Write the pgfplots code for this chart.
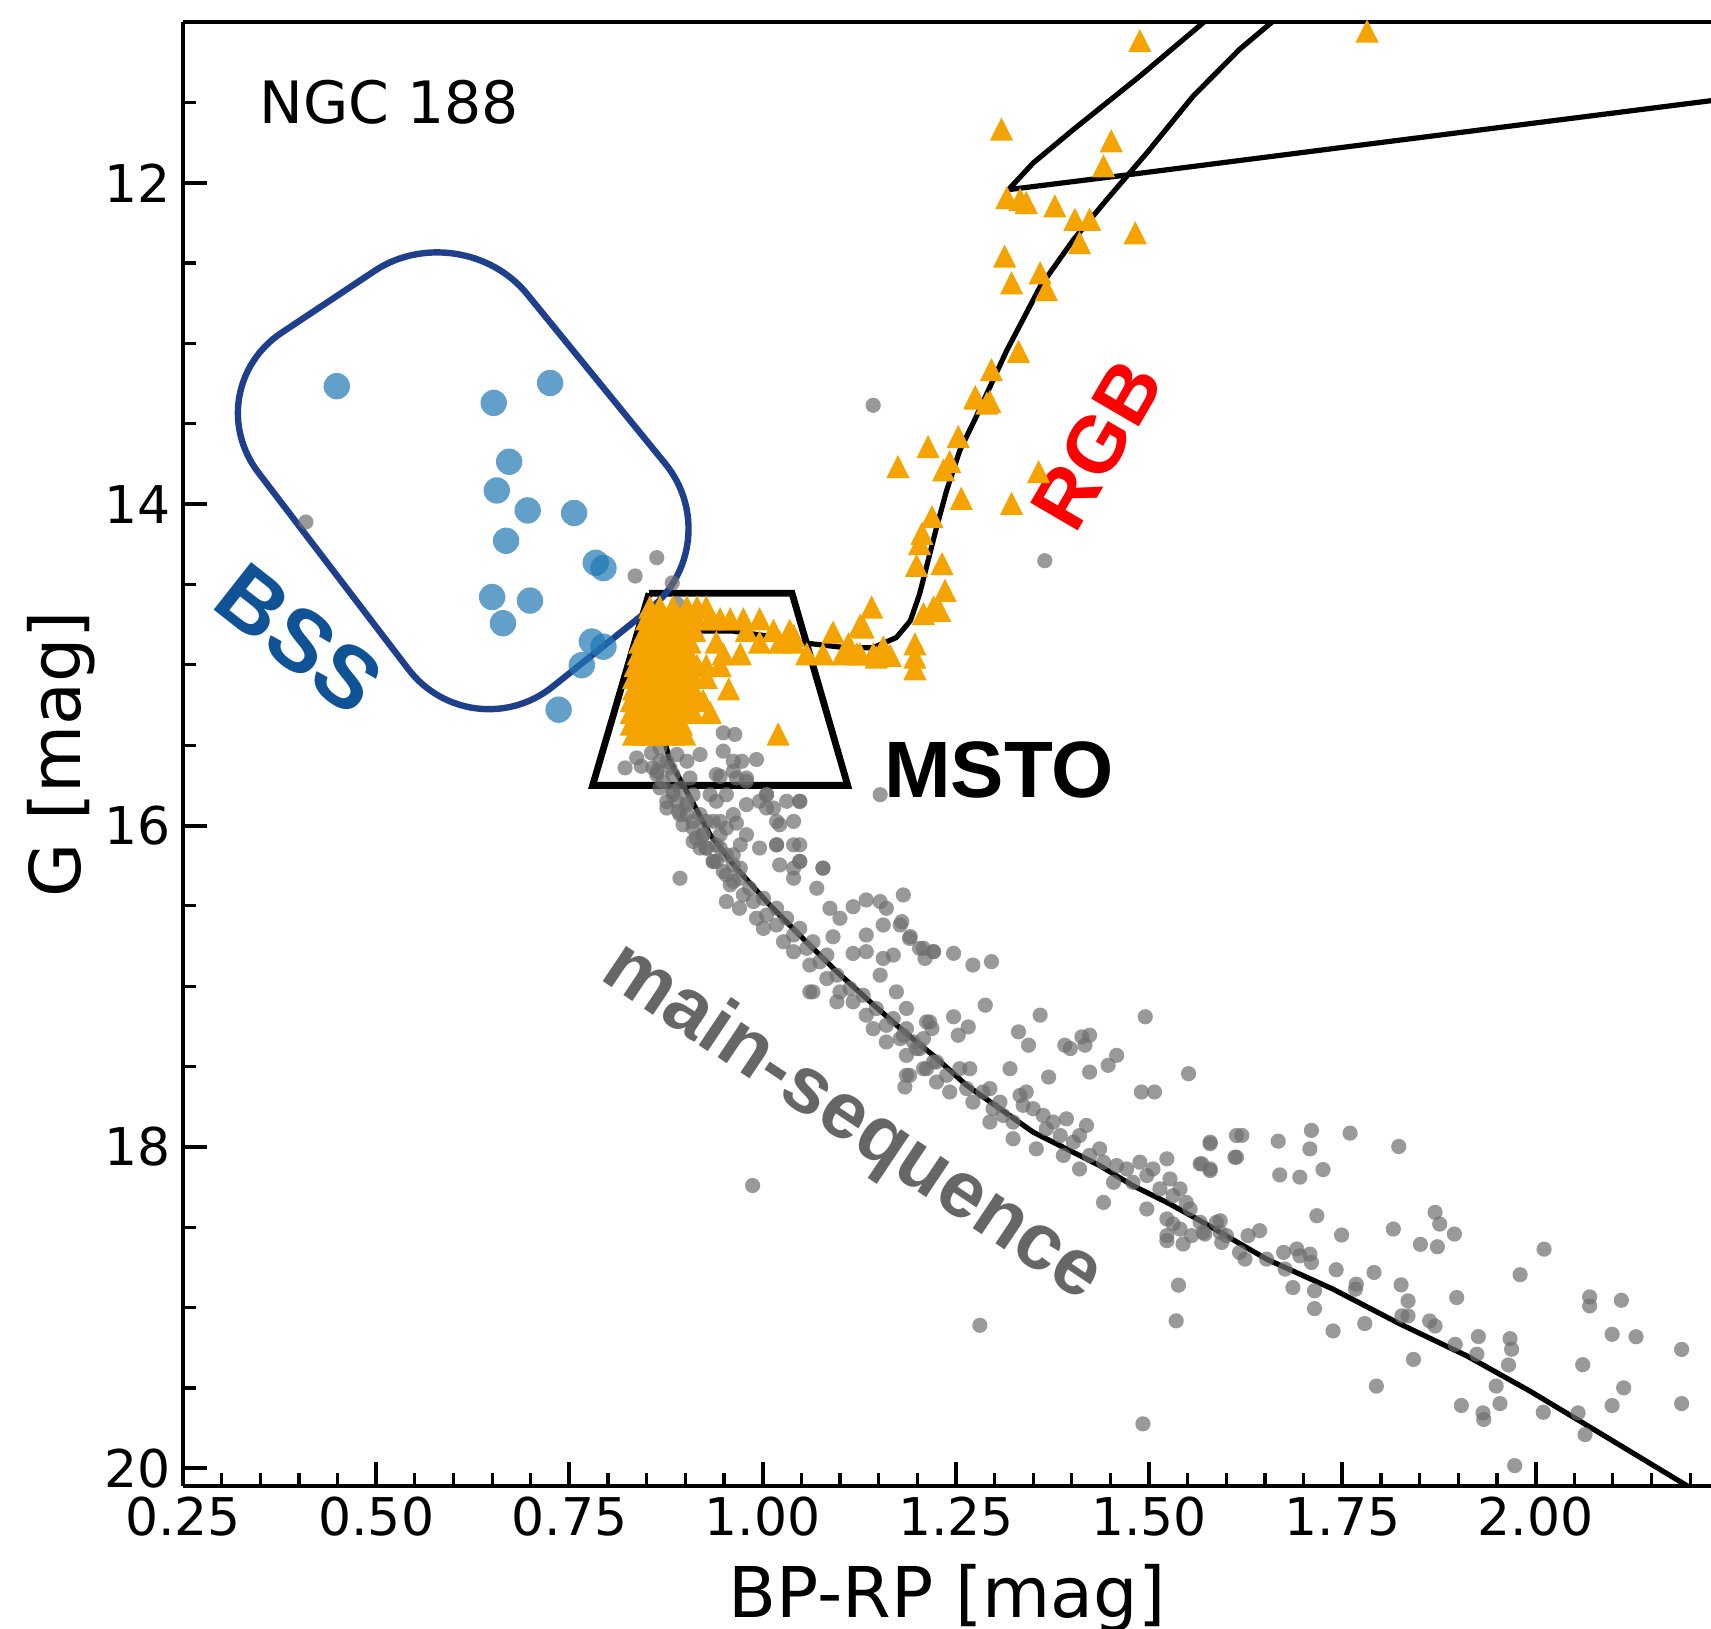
\documentclass[border=0pt]{standalone}
\usepackage{fontspec}
\setmainfont{DejaVu Sans}
\newfontfamily\annot{Liberation Sans}
\usepackage{pgfplots}
\pgfplotsset{compat=1.18}

\definecolor{msgray}{HTML}{6E6E6E}
\definecolor{rgborange}{RGB}{245,163,0}
\definecolor{bssblue}{HTML}{1F77B4}
\definecolor{boxblue}{RGB}{30,64,140}
\definecolor{bsstext}{RGB}{16,82,150}
\definecolor{mslabel}{RGB}{102,102,102}

\begin{document}
\begin{tikzpicture}
\useasboundingbox (-45.75pt,-35.6pt) rectangle (382pt,371.5pt);
\begin{axis}[
  scale only axis, width=382pt, height=366pt,
  xmin=0.25, xmax=2.227, ymin=11.0, ymax=20.11,
  y dir=reverse,
  axis x line*=box, axis y line*=left,
  xtick pos=left, ytick pos=left,
  axis line style={black, line width=1pt},
  tick align=inside,
  major tick length=6pt, minor tick length=3.3pt,
  every tick/.style={black, line width=1pt},
  minor tick style={black, line width=0.8pt},
  xtick={0.25,0.5,0.75,1,1.25,1.5,1.75,2},
  xticklabels={0.25,0.50,0.75,1.00,1.25,1.50,1.75,2.00},
  minor xtick={0.3,0.35,0.4,0.45,0.55,0.6,0.65,0.7,0.8,0.85,0.9,0.95,1.05,1.1,1.15,1.2,1.3,1.35,1.4,1.45,1.55,1.6,1.65,1.7,1.8,1.85,1.9,1.95,2.05,2.1,2.15,2.2},
  ytick={12,14,16,18,20},
  yticklabels={12,14,16,18,20},
  minor ytick={11.5,12.5,13,13.5,14.5,15,15.5,16.5,17,17.5,18.5,19,19.5},
  tick label style={font=\fontsize{13}{15.6}\selectfont},
  xticklabel style={anchor=north, inner sep=0pt, yshift=-2.6pt},
  yticklabel style={anchor=east, inner sep=0pt, xshift=-2.9pt},
  xlabel={BP-RP [mag]},
  ylabel={G [mag]},
  xlabel style={at={([yshift=-19.3pt]axis description cs:0.5,0)}, anchor=north, inner sep=0pt, font=\fontsize{17.5}{21}\selectfont},
  ylabel style={at={([xshift=-21.7pt]axis description cs:0,0.5)}, anchor=south, inner sep=0pt, font=\fontsize{17.5}{21}\selectfont},
]

% field and main-sequence stars
\addplot[only marks, mark=*, mark size=1.9pt, mark options={draw opacity=0, fill=msgray, fill opacity=0.7}] coordinates {
(0.409,14.111) (0.835,14.447) (0.863,14.333) (0.883,14.49) (0.889,14.62) (1.143,13.385) (1.365,14.352)
(0.822,15.641) (0.837,15.579) (0.843,15.631) (0.856,15.548) (0.867,15.600) (0.863,15.683) (0.880,15.641) (0.889,15.558)
(0.902,15.600) (0.906,15.704) (0.919,15.558) (0.949,15.423) (0.964,15.433) (0.949,15.537) (0.962,15.600) (0.973,15.600)
(0.992,15.589) (0.940,15.683) (0.966,15.704) (0.979,15.724) (0.867,15.766) (0.884,15.808) (0.876,15.891) (0.893,15.932)
(0.902,15.849) (0.910,16.016) (0.927,15.974) (0.932,15.808) (0.940,15.849) (0.953,15.808) (0.962,15.932) (0.979,15.870)
(0.996,15.849) (1.005,15.808) (1.014,15.891) (1.031,15.849) (1.048,15.849) (1.040,15.974) (1.022,15.995) (1.018,16.120)
(1.040,16.120) (1.048,16.223) (1.078,16.265) (0.945,16.140) (0.962,16.182) (0.971,16.265) (0.953,16.016) (0.979,16.057)
(0.996,16.140) (0.919,16.140) (0.936,16.223) (0.858,15.641) (1.152,15.808)
(0.867,15.516) (0.876,15.600) (0.884,15.683) (0.893,15.766) (0.889,15.849) (0.902,15.932) (0.910,15.808) (0.919,15.932)
(0.923,16.057) (0.936,15.974) (0.910,16.099) (0.927,16.140) (0.940,16.223) (0.953,16.307) (0.962,16.348) (0.971,16.120) (0.945,16.057)
(0.863,15.662) (0.871,15.725) (0.884,15.787) (0.876,15.850) (0.891,15.912) (0.902,15.870) (0.897,15.995) (0.910,15.974)
(0.914,16.078) (0.923,16.057) (0.927,16.141) (0.940,16.120) (0.936,16.224) (0.953,16.182) (0.949,16.286) (0.962,16.245)
(0.958,16.369) (0.970,16.328) (0.953,16.473) (0.975,16.432) (0.983,16.390) (0.970,16.515) (0.988,16.473) (1.001,16.453)
(0.992,16.577) (1.005,16.557) (1.018,16.515) (1.001,16.640) (1.018,16.619) (1.031,16.577) (1.027,16.723) (1.040,16.681)
(1.048,16.640) (1.040,16.785) (1.057,16.764) (1.065,16.723) (1.061,16.868) (1.074,16.848) (1.083,16.806) (1.065,17.035)
(1.083,16.952) (1.096,16.931) (1.100,17.035) (1.113,17.014) (1.096,17.097) (1.117,17.097) (1.130,17.056) (1.134,17.180)
(1.147,17.139) (1.143,17.264) (1.160,17.243) (1.169,17.201) (1.160,17.347) (1.178,17.326) (1.186,17.264) (1.186,17.430)
(1.199,17.388) (1.208,17.326) (1.216,17.222) (1.212,17.513) (1.225,17.471) (1.190,17.555)
(0.945,15.694) (0.962,15.662) (0.979,15.704) (1.005,15.808) (1.048,15.850) (0.945,15.974) (0.966,15.985) (1.005,15.891)
(1.018,15.974) (1.018,16.120) (1.048,16.120) (1.022,16.245) (1.040,16.265) (1.048,16.224) (1.078,16.265) (1.070,16.390)
(1.040,16.328) (1.087,16.515) (1.100,16.577) (1.117,16.505) (1.134,16.463) (1.152,16.473) (1.160,16.515) (1.156,16.619)
(1.178,16.619) (1.182,16.432) (1.190,16.702) (1.134,16.681) (1.091,16.692) (1.117,16.796) (1.134,16.785) (1.156,16.827)
(1.169,16.806) (1.208,16.764) (1.221,16.785) (1.152,16.931) (1.173,17.035) (1.061,17.035) (0.893,16.328)
(1.180,16.598) (1.191,16.691) (1.203,16.764) (1.210,16.827) (1.221,16.785) (1.247,16.795) (1.272,16.868) (1.296,16.847)
(1.288,17.118) (1.247,17.190) (1.266,17.253) (1.253,17.305) (1.320,17.513) (1.331,17.284) (1.344,17.367) (1.359,17.180)
(1.391,17.367) (1.398,17.388) (1.413,17.315) (1.423,17.305) (1.417,17.367) (1.370,17.565) (1.423,17.534) (1.447,17.492)
(1.458,17.430) (1.495,17.190) (1.551,17.544) (1.490,17.658) (1.507,17.658) (1.186,17.138) (1.186,17.554) (1.184,17.627)
(1.579,17.970) (1.613,17.929) (1.566,18.105) (1.579,18.137) (1.611,18.064)
(1.182,17.305) (1.195,17.346) (1.203,17.388) (1.212,17.222) (1.219,17.263) (1.208,17.513) (1.221,17.471) (1.225,17.596)
(1.238,17.554) (1.242,17.658) (1.255,17.513) (1.268,17.513) (1.264,17.637) (1.272,17.721) (1.285,17.658) (1.294,17.637)
(1.298,17.762) (1.294,17.845) (1.307,17.721) (1.311,17.804) (1.324,17.845) (1.324,17.949) (1.333,17.679) (1.341,17.658)
(1.337,17.741) (1.350,17.762) (1.354,18.012) (1.363,17.804) (1.367,17.887) (1.376,17.845) (1.385,17.929) (1.389,18.053)
(1.393,17.825) (1.402,17.970) (1.410,17.929) (1.419,17.866) (1.410,18.137) (1.423,18.053) (1.436,18.012) (1.441,18.095)
(1.458,18.116) (1.454,18.220) (1.471,18.137) (1.479,18.220) (1.488,18.095) (1.497,18.178) (1.505,18.137) (1.523,18.074)
(1.514,18.261) (1.527,18.199) (1.531,18.303) (1.540,18.261) (1.548,18.345) (1.553,18.386) (1.523,18.448) (1.540,18.511)
(1.566,18.469) (1.587,18.469) (1.592,18.532) (1.497,18.386) (1.441,18.345) (1.523,18.552) (1.600,18.552)
(1.579,17.980) (1.620,17.928) (1.613,18.064) (1.579,18.147) (1.568,18.105) (1.667,17.964) (1.669,18.174) (1.695,18.188)
(1.708,18.012) (1.710,17.897) (1.725,18.141) (1.760,17.914) (1.823,17.997) (1.717,18.428) (1.749,18.548) (1.816,18.511)
(1.851,18.606) (1.870,18.407) (1.876,18.480) (1.873,18.621) (1.895,18.542) (1.592,18.459) (1.572,18.542) (1.594,18.594)
(1.628,18.552) (1.643,18.521) (1.617,18.656) (1.624,18.698) (1.652,18.698) (1.674,18.656) (1.676,18.760) (1.691,18.635)
(1.695,18.677) (1.708,18.667) (1.710,18.719) (1.686,18.875) (1.714,18.895) (1.714,19.006) (1.738,19.145) (1.742,18.764)
(1.767,18.885) (1.768,18.854) (1.779,19.099) (1.791,18.781) (1.826,18.858) (1.835,18.958) (1.827,19.051) (1.835,19.051)
(1.863,19.083) (1.870,19.114) (1.842,19.322) (1.794,19.488) (1.898,18.937) (1.980,18.795) (1.896,19.228) (1.926,19.180)
(1.924,19.290) (1.967,19.193) (1.969,19.259) (1.965,19.357) (1.949,19.488)
(2.011,18.636) (1.904,19.609) (1.932,19.655) (1.933,19.696) (1.954,19.597) (2.010,19.651) (2.055,19.655) (2.064,19.790)
(1.973,19.983) (2.070,18.933) (2.070,18.989) (2.111,18.954) (2.099,19.166) (2.130,19.181) (2.061,19.355) (2.114,19.499)
(2.099,19.609) (2.189,19.260) (2.189,19.597)
(1.531,18.479) (1.523,18.583) (1.544,18.604) (1.555,18.552) (1.570,18.531) (1.538,18.860) (1.535,19.082) (1.492,19.723)
(0.987,18.24) (1.281,19.11)
};

% red giant branch, subgiants and turn-off
\addplot[only marks, mark=triangle*, mark size=3.35pt, mark options={yscale=1.15, draw opacity=0, fill=rgborange}] coordinates {
(0.854,14.664) (0.867,14.664) (0.884,14.664) (0.902,14.664) (0.915,14.664) (0.927,14.664)
(0.850,14.737) (0.863,14.737) (0.876,14.737) (0.889,14.737) (0.902,14.737) (0.915,14.737) (0.932,14.737) (0.945,14.737)
(0.958,14.737) (0.975,14.737) (0.996,14.737)
(0.848,14.809) (0.861,14.809) (0.874,14.809) (0.887,14.809) (0.899,14.809) (0.912,14.809) (0.979,14.809) (1.014,14.809) (1.035,14.809)
(0.841,14.882) (0.854,14.882) (0.867,14.882) (0.880,14.882) (0.893,14.882) (0.906,14.882) (0.940,14.882) (0.996,14.882)
(1.022,14.882) (1.040,14.882)
(0.839,14.955) (0.852,14.955) (0.865,14.955) (0.878,14.955) (0.891,14.955) (0.904,14.955) (0.949,14.955) (0.971,14.955)
(1.057,14.955) (1.078,14.955) (1.104,14.955) (1.122,14.955) (1.143,14.955)
(0.835,15.028) (0.848,15.028) (0.861,15.028) (0.874,15.028) (0.887,15.028) (0.899,15.028) (0.915,15.028) (0.927,15.028) (0.945,15.028)
(0.833,15.101) (0.846,15.101) (0.858,15.101) (0.871,15.101) (0.884,15.101) (0.897,15.101) (0.910,15.101) (0.927,15.101)
(0.833,15.173) (0.846,15.173) (0.858,15.173) (0.871,15.173) (0.884,15.173) (0.897,15.173) (0.910,15.173) (0.956,15.173)
(0.830,15.246) (0.843,15.246) (0.856,15.246) (0.869,15.246) (0.882,15.246) (0.895,15.246) (0.908,15.246) (0.923,15.246)
(0.830,15.319) (0.843,15.319) (0.856,15.319) (0.869,15.319) (0.882,15.319) (0.895,15.319) (0.910,15.319) (0.932,15.319)
(0.830,15.392) (0.843,15.392) (0.856,15.392) (0.869,15.392) (0.882,15.392) (0.895,15.392)
(0.833,15.454) (0.846,15.454) (0.858,15.454) (0.871,15.454) (0.884,15.454) (0.899,15.454) (1.020,15.454)
(1.091,14.820) (1.126,14.778) (1.040,14.841)
(1.275,13.364) (1.294,13.385) (1.253,13.603) (1.214,13.666) (1.175,13.790) (1.234,13.811) (1.242,13.759) (1.257,13.988)
(1.357,13.822) (1.322,14.019) (1.219,14.102) (1.206,14.206) (1.203,14.269) (1.199,14.404) (1.232,14.393) (1.236,14.560)
(1.221,14.664) (1.208,14.705) (1.229,14.685) (1.141,14.664) (1.130,14.789) (1.111,14.893) (1.156,14.913) (1.165,14.965)
(1.197,14.893) (1.197,14.976) (1.197,15.048) (1.147,14.976) (1.126,14.955)
(1.488,11.139) (1.309,11.690) (1.451,11.763) (1.441,11.919) (1.316,12.116) (1.333,12.127) (1.341,12.147) (1.378,12.168)
(1.404,12.251) (1.423,12.251) (1.482,12.335) (1.410,12.397) (1.313,12.480) (1.322,12.647) (1.359,12.584) (1.367,12.688)
(1.331,13.073) (1.296,13.187) (1.275,13.354) (1.290,13.395) (1.782,11.08)
};

% blue stragglers
\addplot[only marks, mark=*, mark size=3.3pt, mark options={draw opacity=0, fill=bssblue, fill opacity=0.7}] coordinates {
(0.449,13.266) (0.652,13.370) (0.725,13.246) (0.672,13.736) (0.656,13.915) (0.696,14.039) (0.756,14.055) (0.668,14.228)
(0.784,14.365) (0.794,14.398) (0.650,14.578) (0.699,14.600) (0.664,14.741) (0.779,14.855) (0.794,14.887) (0.766,15.002)
(0.736,15.279)
};

% isochrone
\addplot[black, line width=1.3pt, mark=none, line join=round] coordinates {
(2.215,20.16) (2.200,20.12) (2.083,19.78) (1.993,19.52) (1.911,19.30) (1.824,19.10) (1.738,18.885) (1.652,18.698)
(1.566,18.459) (1.523,18.345) (1.479,18.241) (1.436,18.116) (1.393,18.012) (1.350,17.908) (1.307,17.762) (1.264,17.617)
(1.223,17.44) (1.180,17.27) (1.139,17.097) (1.096,16.910) (1.052,16.702) (1.009,16.494) (0.966,16.265) (0.932,16.057)
(0.902,15.79) (0.880,15.60) (0.871,15.43) (0.856,15.18) (0.854,15.04) (0.863,14.91) (0.884,14.82) (0.919,14.79)
(0.962,14.79) (1.005,14.82) (1.048,14.86) (1.083,14.88) (1.111,14.895) (1.143,14.893) (1.173,14.830) (1.191,14.726)
(1.203,14.560) (1.214,14.352) (1.225,14.144) (1.238,13.915) (1.255,13.666) (1.274,13.479) (1.316,13.042) (1.359,12.647)
(1.402,12.355) (1.445,12.106) (1.497,11.815) (1.557,11.461) (1.617,11.170) (1.658,11.004) (1.70,10.85) (1.608,10.85)
(1.570,11.004) (1.488,11.337) (1.402,11.669) (1.350,11.877) (1.318,12.043) (1.462,11.957) (1.747,11.782) (2.226,11.49)
(2.30,11.445)
};

% MSTO selection box
\addplot[black, line width=1.7pt, mark=none, line join=miter] coordinates {
(0.853,14.555) (1.038,14.555) (1.110,15.75) (0.780,15.75) (0.853,14.555)
};

% BSS selection box
\addplot[boxblue, line width=1.6pt, mark=none, rounded corners=26pt] coordinates {
(0.438,12.74) (0.610,12.19) (0.959,14.25) (0.623,15.54) (0.266,13.29) (0.438,12.74)
};

\node[font=\fontsize{14.6}{17.5}\selectfont] at (axis cs:0.517,11.50) {NGC 188};
\node[font=\annot\bfseries\fontsize{22}{26}\selectfont, text=bsstext, rotate=-38.2] at (axis cs:0.400,14.84) {BSS};
\node[font=\annot\bfseries\fontsize{20}{24}\selectfont, text=red, rotate=59.7] at (axis cs:1.432,13.63) {RGB};
\node[font=\annot\bfseries\fontsize{20}{24}\selectfont] at (axis cs:1.306,15.654) {MSTO};
\node[font=\annot\bfseries\fontsize{20}{24}\selectfont, text=mslabel, rotate=-33.8] at (axis cs:1.116,17.85) {main-sequence};
\end{axis}
\end{tikzpicture}
\end{document}
